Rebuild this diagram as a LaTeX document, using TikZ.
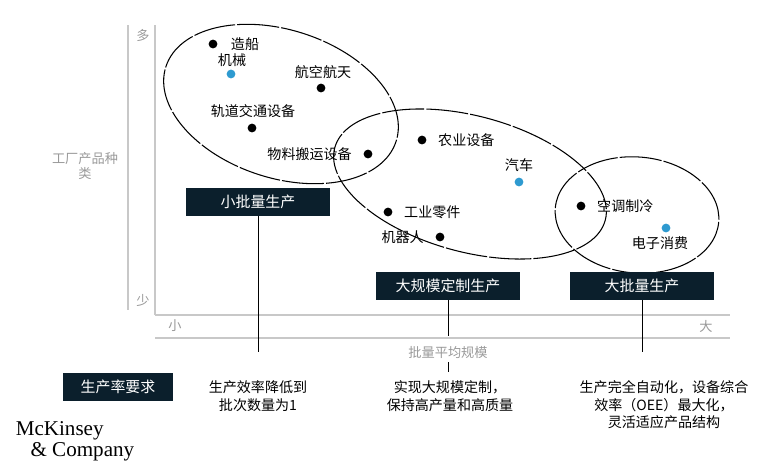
\documentclass[tikz,border=0pt]{standalone}
\usepackage{fontspec}
\newfontfamily\cjk{Noto Sans CJK SC}
\newfontfamily\logofont{Liberation Serif}
\usetikzlibrary{positioning}
\definecolor{navy}{HTML}{0B1F2C}
\definecolor{dotblue}{HTML}{2E9AD0}
\definecolor{axisgray}{HTML}{C8C8C8}

\begin{document}
\begin{tikzpicture}[x=0.02cm,y=-0.02cm,
  txt/.style={font=\cjk\fontsize{8}{10}\selectfont},
  gtxt/.style={font=\cjk\fontsize{7.5}{9}\selectfont,text=gray!80},
  darkbox/.style={fill=navy,text=white,minimum width=2.9cm,minimum height=0.56cm,font=\cjk\fontsize{8.5}{10}\selectfont},
  bdot/.style={circle,fill=black,inner sep=0pt,minimum size=5pt},
  udot/.style={circle,fill=dotblue,inner sep=0pt,minimum size=5pt},
  grp/.style={dash pattern=on 24pt off 1.2pt,line width=0.6pt}]
\useasboundingbox (0,0) rectangle (780,470);

% axes
\draw[axisgray,line width=0.8pt] (128,25) -- (128,310);
\draw[axisgray,line width=0.8pt] (155,25) -- (155,315);
\draw[axisgray,line width=0.8pt] (155,315) -- (730,315);
\draw[axisgray,line width=0.8pt] (155,338) -- (730,338);
\node[gtxt] (many) at (143,35) {多};
\node[gtxt] (few) at (143,300) {少};
\node[gtxt] (small) at (175,326) {小};
\node[gtxt] (large) at (706,326) {大};
\node[gtxt] (xlabel) at (448,352) {批量平均规模};
\node[gtxt,align=center] (ylabel) at (85,166) {工厂产品种\\类};

% groups
\draw[grp] (281,104) ellipse [x radius=121,y radius=74,rotate=-18];
\draw[grp] (470,184) ellipse [x radius=140,y radius=68,rotate=-15];
\draw[grp] (637,215) ellipse [x radius=82,y radius=58,rotate=-5];

% industries
\node[bdot] (ship) at (213,44) {};
\node[txt,right=4pt of ship] {造船};
\node[udot] (mach) at (231,74) {};
\node[txt] at (232,60) {机械};
\node[bdot] (aero) at (321,88) {};
\node[txt] at (323,72) {航空航天};
\node[bdot] (rail) at (252,128) {};
\node[txt] at (253,111) {轨道交通设备};
\node[bdot] (mat) at (368,154) {};
\node[txt,left=3pt of mat] {物料搬运设备};
\node[bdot] (agri) at (422,140) {};
\node[txt,right=3pt of agri] {农业设备};
\node[udot] (car) at (519,182) {};
\node[txt] at (519,165) {汽车};
\node[bdot] (part) at (388,212) {};
\node[txt,right=3pt of part] {工业零件};
\node[bdot] (robot) at (440,237) {};
\node[txt,left=3pt of robot] {机器人};
\node[bdot] (hvac) at (581,206) {};
\node[txt,right=3pt of hvac] {空调制冷};
\node[udot] (elec) at (666,228) {};
\node[txt] at (660,243) {电子消费};

% modes
\node[darkbox] (lowvol) at (258,202) {小批量生产};
\node[darkbox] (masscust) at (448,286) {大规模定制生产};
\node[darkbox] (highvol) at (642,286) {大批量生产};
\node[darkbox,minimum width=2.2cm] (req) at (118,387) {生产率要求};

\coordinate (lowend) at (258,352);
\coordinate (custend) at (448,336);
\coordinate (highend) at (642,352);
\draw (lowvol) -- (lowend);
\draw (masscust) -- (custend);
\draw (448,362) -- (448,372);
\draw (highvol) -- (highend);

\node[txt,align=center] (lowtxt) at (258,396) {生产效率降低到\\批次数量为1};
\node[txt,align=center] (custtxt) at (450,396) {实现大规模定制，\\保持高产量和高质量};
\node[txt,align=center] (hightxt) at (664,405) {生产完全自动化，设备综合\\效率（OEE）最大化，\\灵活适应产品结构};

\node[font=\logofont\fontsize{12}{12}\selectfont,align=left,inner sep=0pt] (logo) at (75,441) {McKinsey\\\hspace*{0.7em}\& Company};

\end{tikzpicture}
\end{document}
